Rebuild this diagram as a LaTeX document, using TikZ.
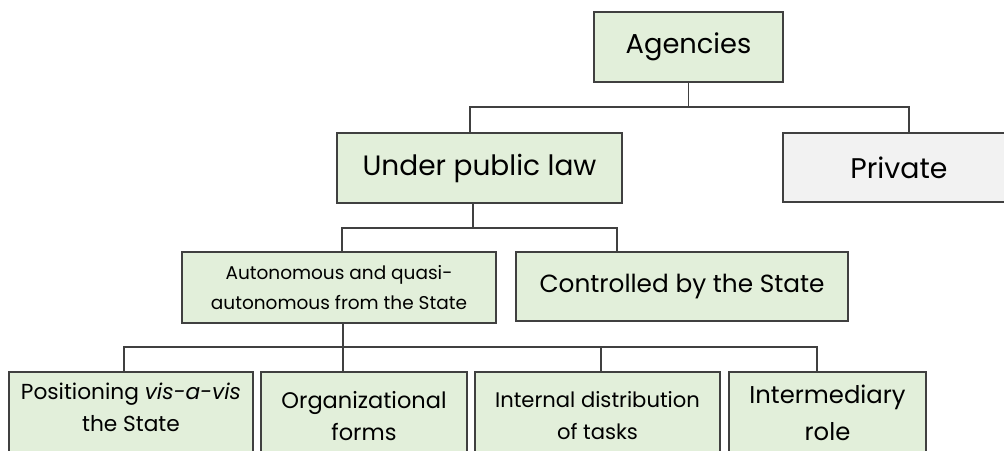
\documentclass[tikz,border=0pt]{standalone}
\usepackage{fontspec}
\setmainfont{Poppins}
\definecolor{boxgreen}{RGB}{226,239,218}
\definecolor{boxgray}{RGB}{242,242,242}
\definecolor{edge}{RGB}{64,64,64}
\begin{document}
\begin{tikzpicture}[x=1pt,y=-1pt,
  box/.style={draw=edge, line width=1.2pt, fill=boxgreen, inner sep=0pt, align=center, text=black},
  conn/.style={draw=edge, line width=1.1pt}]
\useasboundingbox (0,0) rectangle (1004,450);
\clip (0,0) rectangle (1004,450);
\node[box, minimum width=189, minimum height=70, font=\fontsize{27.3}{31}\selectfont] (ag) at (688.5,47) {Agencies};
\node[box, minimum width=285, minimum height=70, font=\fontsize{28}{32}\selectfont] (upl) at (479.5,168) {Under public law};
\node[box, fill=boxgray, minimum width=232, minimum height=69, font=\fontsize{28.4}{32}\selectfont] (priv) at (899,167.5) {Private};
\node[box, minimum width=314, minimum height=71, font=\fontsize{18.5}{30}\selectfont] (auto) at (339,287.5) {Autonomous and quasi-\\autonomous from the State};
\node[box, minimum width=332, minimum height=69, font=\fontsize{24.8}{28}\selectfont] (ctrl) at (682,286.5) {Controlled by the State};
\node[box, minimum width=244, minimum height=88, font=\fontsize{21.7}{32}\selectfont] (b1) at (131,416) {Positioning \textit{vis-a-vis}\\the State\\[-14pt]\mbox{}};
\node[box, minimum width=206, minimum height=88, font=\fontsize{22.5}{32}\selectfont] (b2) at (364,416) {Organizational\\forms};
\node[box, minimum width=245, minimum height=88, font=\fontsize{21.1}{32}\selectfont] (b3) at (597.5,416) {Internal distribution\\of tasks};
\node[box, minimum width=197, minimum height=88, font=\fontsize{24.3}{37}\selectfont] (b4) at (827.5,416) {Intermediary\\role\\[-31pt]\mbox{}};
\coordinate (bus0) at (0,107);
\coordinate (bus1) at (0,228);
\coordinate (bus2) at (0,347);
\draw[conn] (ag.south) -- (ag.south |- bus0);
\draw[conn] ([xshift=-9.5pt]upl.north) |- ([xshift=10pt]priv.north |- bus0) -- ([xshift=10pt]priv.north);
\draw[conn] ([xshift=-6.5pt]upl.south) -- ([xshift=-6.5pt]upl.south |- bus1);
\draw[conn] ([xshift=3pt]auto.north) |- ([xshift=-65pt]ctrl.north |- bus1) -- ([xshift=-65pt]ctrl.north);
\draw[conn] ([xshift=4pt]auto.south) -- ([xshift=-21pt]b2.north);
\draw[conn] ([xshift=-7pt]b1.north) |- ([xshift=-10.5pt]b4.north |- bus2) -- ([xshift=-10.5pt]b4.north);
\draw[conn] ([xshift=3.5pt]b3.north) -- ([xshift=3.5pt]b3.north |- bus2);
\end{tikzpicture}
\end{document}
